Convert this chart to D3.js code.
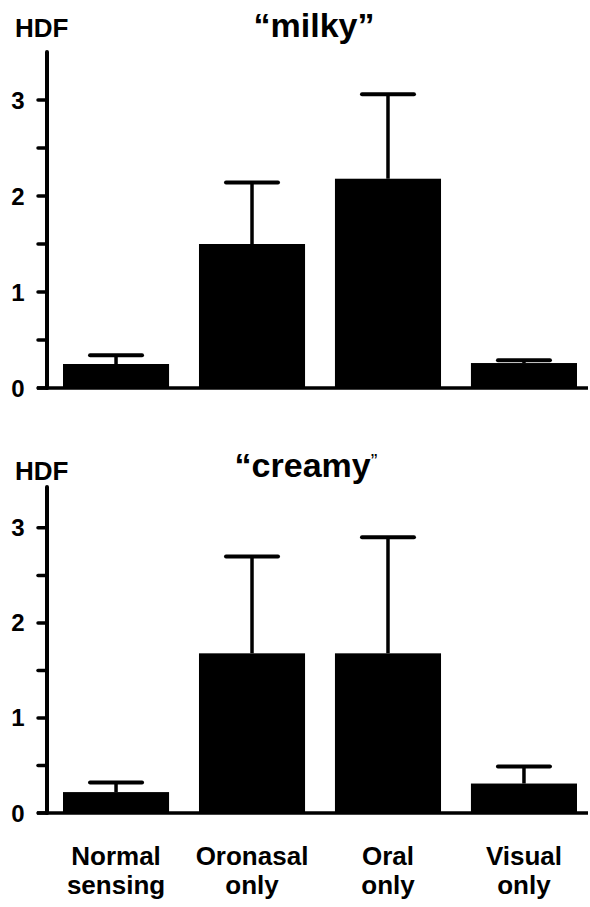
<!DOCTYPE html>
<html>
<head>
<meta charset="utf-8">
<script src="https://cdn.jsdelivr.net/npm/d3@7"></script>
<style>
  body { margin: 0; background: #fff; }
  text { font-family: "Liberation Sans", Arial, sans-serif; font-weight: bold; }
</style>
</head>
<body>
<svg id="chart" width="590" height="907"></svg>
<script>
const categories = ["Normal sensing", "Oronasal only", "Oral only", "Visual only"]
const labelLines = [["Normal", "sensing"], ["Oronasal", "only"], ["Oral", "only"], ["Visual", "only"]]
const milkyMean = [0.25, 1.50, 2.18, 0.26]
const milkyErr = [0.34, 2.14, 3.06, 0.29]
const creamyMean = [0.22, 1.68, 1.68, 0.31]
const creamyErr = [0.32, 2.70, 2.90, 0.49]
const yTicks = [0, 1, 2, 3]
const yMinorTicks = [0.5, 1.5, 2.5]

let svg = d3.select("#chart")

const x = d3.scaleBand()
    .domain(categories)
    .range([63, 577])
    .paddingInner(0.22)

function drawPanel(g, means, errs, base, top, axisMax, title, hdfY, titleY, titleX, smallClose) {
    const y = d3.scaleLinear().domain([0, axisMax]).range([base, top])

    // bars
    g.selectAll(".bar").data(categories).join("rect")
        .attr("class", "bar")
        .attr("x", d => x(d))
        .attr("width", x.bandwidth())
        .attr("y", (d, i) => y(means[i]))
        .attr("height", (d, i) => y(0) - y(means[i]))
        .attr("fill", "#000")

    // error bars (upper only)
    g.selectAll(".stem").data(categories).join("line")
        .attr("class", "stem")
        .attr("x1", d => x(d) + x.bandwidth() / 2)
        .attr("x2", d => x(d) + x.bandwidth() / 2)
        .attr("y1", (d, i) => y(means[i]))
        .attr("y2", (d, i) => y(errs[i]))
        .attr("stroke", "#000").attr("stroke-width", 3.5)
    g.selectAll(".cap").data(categories).join("line")
        .attr("class", "cap")
        .attr("x1", d => x(d) + x.bandwidth() / 2 - 26)
        .attr("x2", d => x(d) + x.bandwidth() / 2 + 26)
        .attr("y1", (d, i) => y(errs[i]))
        .attr("y2", (d, i) => y(errs[i]))
        .attr("stroke", "#000").attr("stroke-width", 4).attr("stroke-linecap", "round")

    // baseline
    g.append("line")
        .attr("x1", 37).attr("x2", 588)
        .attr("y1", y(0)).attr("y2", y(0))
        .attr("stroke", "#000").attr("stroke-width", 3.5)

    // y axis
    g.append("line")
        .attr("x1", 47).attr("x2", 47)
        .attr("y1", y(0)).attr("y2", y(axisMax))
        .attr("stroke", "#000").attr("stroke-width", 4).attr("stroke-linecap", "round")

    g.selectAll(".tick").data(yTicks.concat(yMinorTicks)).join("line")
        .attr("class", "tick")
        .attr("x1", 38).attr("x2", 47)
        .attr("y1", d => y(d)).attr("y2", d => y(d))
        .attr("stroke", "#000").attr("stroke-width", 3.5).attr("stroke-linecap", "round")

    g.selectAll(".ticklabel").data(yTicks).join("text")
        .attr("class", "ticklabel")
        .attr("x", 18)
        .attr("y", d => y(d) + 8.5)
        .attr("text-anchor", "middle")
        .style("font-size", "24px")
        .text(d => d)

    g.append("text")
        .attr("x", 15).attr("y", hdfY)
        .style("font-size", "26px")
        .text("HDF")

    let t = g.append("text")
        .attr("x", titleX).attr("y", titleY)
        .attr("text-anchor", "middle")
        .style("font-size", "34px")
    if (smallClose) {
        t.append("tspan").text("\u201C" + title)
        t.append("tspan").text("\u201D").style("font-size", "20px").style("font-weight", "normal")
            .attr("dy", -9)
    } else {
        t.text("\u201C" + title + "\u201D")
    }
}

drawPanel(svg.append("g"), milkyMean, milkyErr, 388, 52, 3.5, "milky", 37, 37, 314, false)
drawPanel(svg.append("g"), creamyMean, creamyErr, 813, 487, 3.43, "creamy", 480, 477, 306, true)

// category labels
let labels = svg.append("g")
labels.selectAll("text").data(categories).join("text")
    .attr("x", d => x(d) + x.bandwidth() / 2)
    .attr("y", 865)
    .attr("text-anchor", "middle")
    .style("font-size", "26px")
    .each(function (d, i) {
        d3.select(this).selectAll("tspan").data(labelLines[i]).join("tspan")
            .attr("x", x(d) + x.bandwidth() / 2)
            .attr("dy", (l, j) => j === 0 ? 0 : 29)
            .text(l => l)
    })
</script>
</body>
</html>
